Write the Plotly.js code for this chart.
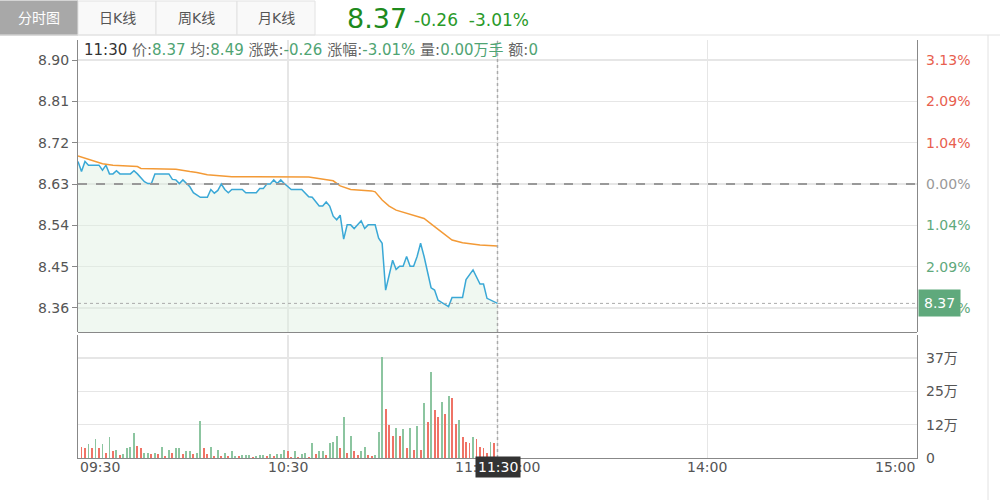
<!DOCTYPE html>
<html>
<head>
<meta charset="utf-8">
<script src="https://cdn.plot.ly/plotly-3.0.1.min.js"></script>
<style>
html,body{margin:0;padding:0;background:#fff;}
#chart{width:1000px;height:500px;}
</style>
</head>
<body>
<div id="chart"></div>
<script>
// ---- data ----
const prevClose = 8.63;
const priceMin = [0,1,2,3,6,7,8,9,10,11,12,15,16,17,19,20,21,22,26,27,28,29,30,32,33,35,37,38,39,40,41,42,43,44,47,48,51,52,53,54,55,56,57,58,59,61,64,66,67,69,70,71,72,73,74,75,76,77,78,79,81,82,83,85,86,87,88,90,91,92,93,94,95,96,97,98,99,101,102,103,104,106,107,110,111,113,115,116,117,119,120];
const priceVal = [8.679,8.657,8.679,8.671,8.671,8.660,8.671,8.652,8.652,8.659,8.652,8.652,8.659,8.652,8.635,8.631,8.631,8.652,8.652,8.640,8.639,8.631,8.639,8.624,8.611,8.601,8.601,8.618,8.610,8.616,8.630,8.618,8.611,8.618,8.618,8.611,8.611,8.620,8.620,8.630,8.630,8.639,8.631,8.639,8.631,8.618,8.618,8.602,8.601,8.582,8.582,8.591,8.582,8.560,8.552,8.562,8.510,8.541,8.541,8.533,8.550,8.533,8.541,8.541,8.512,8.501,8.399,8.464,8.444,8.451,8.451,8.472,8.451,8.451,8.472,8.501,8.472,8.404,8.399,8.377,8.372,8.363,8.383,8.383,8.422,8.443,8.412,8.412,8.381,8.374,8.370];
const avgMin = [0,4,7,10,13,17,18,28,32,34,37,44,66,70,73,75,78,84,85,87,89,91,94,97,99,102,105,107,110,113,115,120];
const avgVal = [8.691,8.681,8.674,8.671,8.669,8.668,8.664,8.662,8.657,8.655,8.650,8.646,8.645,8.640,8.637,8.626,8.618,8.615,8.613,8.595,8.582,8.573,8.566,8.560,8.555,8.537,8.519,8.508,8.502,8.499,8.497,8.495];
// volume per minute (万), starting 09:31
const volVal = [4.1,3.6,5.1,3.6,7.0,3.6,5.1,1.7,7.6,2.5,3.0,1.0,1.5,3.6,4.1,9.1,4.6,3.6,2.0,2.0,1.5,2.0,1.5,4.1,0.6,3.0,2.0,3.6,3.6,1.5,2.5,2.5,1.5,2.0,13.7,3.6,1.5,4.1,0.6,3.0,0.6,2.0,0.6,2.5,0.6,0.6,1.0,1.0,1.0,0.4,0.6,1.0,1.0,0.6,1.5,0.6,1.5,1.5,3.0,2.5,0.4,2.5,0.4,1.5,2.0,0.4,5.6,1.5,2.5,2.5,1.0,5.6,6.1,8.0,3.6,15.1,2.0,8.0,2.5,1.0,2.5,4.1,1.0,0.6,1.0,9.7,37.2,18.2,12.1,8.0,11.2,8.0,10.7,3.6,11.2,3.0,11.7,3.0,20.2,13.2,31.8,17.7,15.1,20.7,16.1,23.1,22.2,12.7,14.1,7.6,6.1,5.6,7.6,7.0,4.1,3.6,2.0,6.1,5.6];
// r = red (up) bar, g = green (down) bar, in groups of ten minutes
const volDirGroups = ["rrgrgrgrgr","grggggrrgg","rgrgrgrggr","ggrggrrgrg","rgrggrgggr","gggrgrgggr","rgrggrgrgg","rgggrgrgrr","ggrrgggrrr","grgrgrgrgr","grrgrgrrgr","rrgrrrrgr"];
const volDir = volDirGroups.join("").split("");
const priceTicks = [8.36,8.45,8.54,8.63,8.72,8.81,8.90];
const pctText = ["3.13%","2.09%","1.04%","0.00%","1.04%","2.09%","3.13%"];
const volTicks = [0,12.33,24.67,37];
const volTickText = ["0","12万","25万","37万"];
const timeTicks = [0,60,120,180,240];
const timeText = ["09:30","10:30","11:30/13:00","14:00","15:00"];
const tabs = ["分时图","日K线","周K线","月K线"];

// ---- styling ----
const RED = "#e8604f", GREEN = "#5fa97c", GREY = "#999";
const FONT = "DejaVu Sans, Noto Sans CJK SC, sans-serif";
const volX = volVal.map((v,i)=>i+1);
const volColors = volVal.map((v,i)=> (volDir[i]==="r") ? "#ef7366" : "#8cc5a0");
const pctColors = priceTicks.map(t => t>prevClose ? RED : (t<prevClose ? GREEN : GREY));

const traces = [
  {x: priceMin, y: priceVal, type:"scatter", mode:"lines", xaxis:"x", yaxis:"y",
   line:{color:"#3aa8d6", width:1.5}, fill:"tozeroy", fillcolor:"rgba(222,240,225,0.45)", hoverinfo:"skip"},
  {x: avgMin, y: avgVal, type:"scatter", mode:"lines", xaxis:"x", yaxis:"y",
   line:{color:"#f39a36", width:1.5}, hoverinfo:"skip"},
  {x: volX, y: volVal, type:"bar", xaxis:"x", yaxis:"y2", width:0.55,
   marker:{color: volColors, line:{width:0}}, hoverinfo:"skip"}
];

const pxX = p => (p-78)/839;     // pixel -> paper
const pxY = p => (458-p)/418;

const annotations = [];
const xAnch = ["left","center","center","center","right"];
timeTicks.forEach((t,i)=>annotations.push({x:t, xref:"x", y:pxY(467), yref:"paper", text:timeText[i],
  showarrow:false, xanchor:xAnch[i], yanchor:"middle", font:{family:FONT,size:14,color:"#555"}}));
annotations.push({x:120, xref:"x", y:pxY(467), yref:"paper", text:"11:30", showarrow:false,
  xanchor:"center", yanchor:"middle", bgcolor:"#333", borderpad:2, font:{family:FONT,size:14,color:"#fff"}});
priceTicks.forEach((t,i)=>annotations.push({x:1, xref:"paper", xshift:7, y:t, yref:"y", text:pctText[i],
  showarrow:false, xanchor:"left", yanchor:"middle", font:{family:FONT,size:14,color:pctColors[i]}}));
annotations.push({x:1, xref:"paper", xshift:1, y:priceVal[priceVal.length-1], yref:"y", text:"8.37", showarrow:false,
  xanchor:"left", yanchor:"middle", bgcolor:GREEN, borderpad:5, font:{family:FONT,size:14,color:"#fff"}});
volTicks.forEach((t,i)=>annotations.push({x:1, xref:"paper", xshift:7, y:t, yref:"y2", text:volTickText[i],
  showarrow:false, xanchor:"left", yanchor:"middle", font:{family:FONT,size:14,color:"#555"}}));
const lab = s => `<span style="color:#666">${s}</span>`;
const val = s => `<span style="color:#4fa473">${s}</span>`;
annotations.push({x:0, xref:"paper", xshift:4, y:pxY(50), yref:"paper", showarrow:false, xanchor:"left", yanchor:"middle",
  text: `<span style="color:#333">11:30</span> ${lab("价:")}${val("8.37")} ${lab("均:")}${val("8.49")} ${lab("涨跌:")}${val("-0.26")} ${lab("涨幅:")}${val("-3.01%")} ${lab("量:")}${val("0.00万手")} ${lab("额:")}${val("0")}`,
  font:{family:FONT,size:15,color:"#666"}});
annotations.push({x:pxX(345), xref:"paper", y:pxY(19), yref:"paper", showarrow:false, xanchor:"left", yanchor:"middle",
  text:"8.37", font:{family:FONT,size:27,color:"#1d8a1d"}});
annotations.push({x:pxX(412), xref:"paper", y:pxY(20), yref:"paper", showarrow:false, xanchor:"left", yanchor:"middle",
  text:"-0.26  -3.01%", font:{family:FONT,size:17,color:"#2a9a2a"}});

const tabEdges = [0,78,156,237,315];
const shapes = [];
tabs.forEach((t,i)=>{
  shapes.push({type:"rect", xref:"paper", yref:"paper", x0:pxX(tabEdges[i]), x1:pxX(tabEdges[i+1]), y0:pxY(35), y1:pxY(1),
    fillcolor: i===0 ? "#a8a8a8" : "#f9f9f9", line:{color: i===0 ? "#a8a8a8" : "#e2e2e2", width:1}, layer:"above"});
  annotations.push({x:pxX((tabEdges[i]+tabEdges[i+1])/2), xref:"paper", y:pxY(18), yref:"paper", text:t, showarrow:false,
    xanchor:"center", yanchor:"middle", font:{family:FONT,size:14,color: i===0 ? "#fff" : "#555"}});
});
shapes.push({type:"line", xref:"paper", yref:"paper", x0:pxX(0), x1:pxX(1000), y0:pxY(35), y1:pxY(35), line:{color:"#e2e2e2", width:1}});
shapes.push({type:"line", xref:"paper", yref:"paper", x0:pxX(988), x1:pxX(988), y0:pxY(35), y1:pxY(500), line:{color:"#e2e2e2", width:1}});
shapes.push({type:"line", xref:"paper", yref:"y", x0:0, x1:1, y0:prevClose, y1:prevClose, line:{color:"#999", width:2, dash:"dash"}});
shapes.push({type:"line", xref:"paper", yref:"y", x0:0, x1:1, y0:8.37, y1:8.37, line:{color:"#aaa", width:1, dash:"dot"}});
shapes.push({type:"line", xref:"x", yref:"paper", x0:120, x1:120, y0:0, y1:1, line:{color:"#aaa", width:1.5, dash:"dot"}});
shapes.push({type:"line", xref:"paper", yref:"paper", x0:0, x1:1, y0:pxY(332.5), y1:pxY(332.5), line:{color:"#888", width:1}});

const layout = {
  width:1000, height:500, margin:{l:78, r:83, t:40, b:42},
  paper_bgcolor:"#fff", plot_bgcolor:"#fff", showlegend:false,
  font:{family:FONT, size:14, color:"#555"},
  bargap:0,
  xaxis:{range:[0,240], anchor:"y2", tickvals:timeTicks, showticklabels:false, ticks:"",
    showgrid:true, gridcolor:"#e6e6e6", gridwidth:1.5, zeroline:false,
    showline:true, linecolor:"#888", linewidth:1, fixedrange:true},
  yaxis:{domain:[pxY(332),1], range:[8.3077,8.9436], tickvals:priceTicks, ticktext:priceTicks.map(v=>v.toFixed(2)),
    ticks:"outside", ticklen:5, tickcolor:"#888", showgrid:true, gridcolor:"#e6e6e6", gridwidth:1.5, zeroline:false,
    showline:true, mirror:true, linecolor:"#888", linewidth:1, tickfont:{family:FONT,size:14,color:"#555"}},
  yaxis2:{domain:[0,pxY(335)], range:[0,45.5], tickvals:volTicks, showticklabels:false, ticks:"",
    showgrid:true, gridcolor:"#e6e6e6", gridwidth:1.5, zeroline:false,
    showline:true, mirror:true, linecolor:"#888", linewidth:1},
  shapes: shapes,
  annotations: annotations
};

Plotly.newPlot("chart", traces, layout, {staticPlot:true, displayModeBar:false});
</script>
</body>
</html>
